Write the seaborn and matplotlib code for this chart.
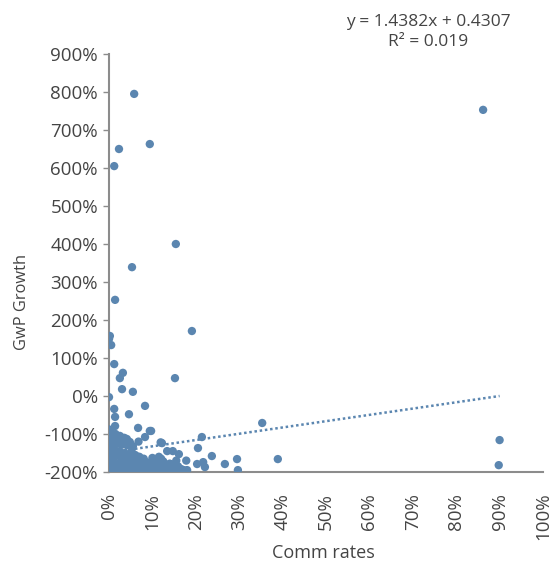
import matplotlib
matplotlib.use("Agg")
import matplotlib.pyplot as plt
import seaborn as sns
import pandas as pd
from matplotlib.ticker import FuncFormatter, MultipleLocator

# ---- data (in %) ----
comm_rates = [
    5.8, 9.4, 2.3, 1.2, 86.2, 15.4, 5.3, 1.4, 19.1, 0.2, 0.0, 0.5,
    1.2, 3.2, 2.5, 3.0, 5.5, 15.2, 0.0, 1.2, 1.4, 4.6, 8.3, 1.4, 6.7,
    9.7, 9.4, 8.3, 0.0, 0.2, 2.0, 4.1, 4.8, 12.2, 21.4, 35.3, 20.5,
    13.4, 14.7, 16.1, 23.7, 29.5, 38.9, 29.7, 26.7, 22.1, 20.3, 21.7,
    18.0, 10.0, 6.7, 90.0, 89.8,
    # left column
    0.0, 0.3, 0.6, 0.0, 0.9, 0.3, 0.0, 0.6, 0.2, 0.9, 0.0, 0.4, 0.8,
    0.1, 0.5, 0.0, 0.7, 0.2, 0.9, 0.4, 0.0,
    # dense cluster
    1.5, 2.5, 3.5, 1.8, 3.0, 4.2, 5.3, 1.2, 2.4, 3.6, 4.8, 6.0, 1.5,
    2.7, 3.9, 5.1, 6.3, 7.5, 8.7, 1.0, 2.2, 3.4, 4.6, 5.8, 7.0, 8.2,
    9.4, 10.6, 11.8, 13.0, 14.2, 15.4, 16.6, 1.6, 2.8, 4.0, 5.2, 6.4,
    7.6, 8.8, 10.0, 11.2, 12.4, 13.6, 14.8, 16.0, 17.2, 11.0, 12.5,
    14.0, 15.5, 9.5, 7.0, 8.0, 12.0, 0.5, 2.0, 11.5, 11.9, 14.4,
    10.2, 13.1, 15.9, 17.8, 9.0, 6.8, 4.3, 2.9, 5.5, 3.8, 1.9
]
gwp_growth = [
    795, 663, 650, 605, 753, 400, 339, 253, 171, 158, 150, 134,
    84, 61, 47, 18, 11, 47, -3, -34, -55, -48, -26, -79, -84,
    -92, -92, -108, -95, -105, -116, -113, -121, -124, -108, -71, -137,
    -145, -145, -153, -158, -166, -166, -195, -179, -187, -179, -174,
    -195, -163, -160, -116, -182,
    # left column
    -88, -92, -100, -105, -112, -118, -125, -130, -137, -143, -150,
    -155, -160, -165, -170, -175, -180, -185, -190, -195, -198,
    # dense cluster
    -100, -105, -110, -125, -128, -130, -138, -140, -145, -150, -152,
    -155, -158, -162, -165, -168, -170, -172, -175, -175, -178, -180,
    -182, -185, -187, -188, -190, -185, -188, -186, -190, -188, -192,
    -192, -195, -197, -199, -196, -198, -197, -199, -196, -198, -199,
    -197, -199, -195, -175, -172, -178, -170, -178, -160, -165, -165,
    -200, -200, -160, -122, -180, -178, -181, -185, -170, -176, -120,
    -118, -115, -132, -115, -110
]
trend_x = [0.0, 90.0]
trend_y = [-149.0, 0.0]

eq_text = "y = 1.4382x + 0.4307\nR² = 0.019"
x_label = "Comm rates"
y_label = "GwP Growth"

df = pd.DataFrame({"x": [v / 100 for v in comm_rates],
                   "y": [v / 100 for v in gwp_growth]})
tdf = pd.DataFrame({"x": [v / 100 for v in trend_x],
                    "y": [v / 100 for v in trend_y]})

sns.set_style("white")
plt.rcParams["font.family"] = ["Open Sans", "DejaVu Sans"]

color = "#5b86b0"
txt = "#444444"
fig = plt.figure(figsize=(5.57, 5.68), dpi=100)
ax = fig.add_axes([109 / 557, 1 - 472 / 568, (543 - 109) / 557, (472 - 54) / 568])

sns.scatterplot(data=df, x="x", y="y", ax=ax, color=color, s=36,
                edgecolor="none", linewidth=0, zorder=3)
sns.lineplot(data=tdf, x="x", y="y", ax=ax, color=color, linewidth=1.8,
             zorder=2)
ax.lines[-1].set_linestyle((0, (1, 1.1)))
ax.lines[-1].set_dash_capstyle("butt")

ax.set_xlim(0, 1.0)
ax.set_ylim(-2.0, 9.0)
ax.xaxis.set_major_locator(MultipleLocator(0.1))
ax.yaxis.set_major_locator(MultipleLocator(1.0))
pct = FuncFormatter(lambda v, p: f"{v * 100:.0f}%".replace("\u2212", "-"))
ax.xaxis.set_major_formatter(pct)
ax.yaxis.set_major_formatter(pct)

for s in ["top", "right"]:
    ax.spines[s].set_visible(False)
for s in ["left", "bottom"]:
    ax.spines[s].set_color("#8c8c8c")
    ax.spines[s].set_linewidth(1.5)

ax.tick_params(axis="y", length=4, color="#8c8c8c", width=1, labelsize=13.5,
               labelcolor=txt, pad=4, left=True)
ax.tick_params(axis="x", length=0, labelsize=13.5, labelcolor=txt,
               pad=15, rotation=90, bottom=True)
for lbl in ax.get_xticklabels():
    lbl.set_va("top")
    lbl.set_ha("center")

ax.set_xlabel("")
ax.set_ylabel("")
fig.text(323 / 557, 1 - 553 / 568, x_label, ha="center", va="center",
         fontsize=13, color=txt)
fig.text(22 / 557, 1 - 302 / 568, y_label, ha="center", va="center",
         rotation=90, fontsize=11.8, color=txt)
fig.text(428 / 557, 1 - 32 / 568, eq_text, ha="center", va="center",
         fontsize=12.5, color=txt, linespacing=1.3, multialignment="center")

fig.savefig("out.png", dpi=100)
